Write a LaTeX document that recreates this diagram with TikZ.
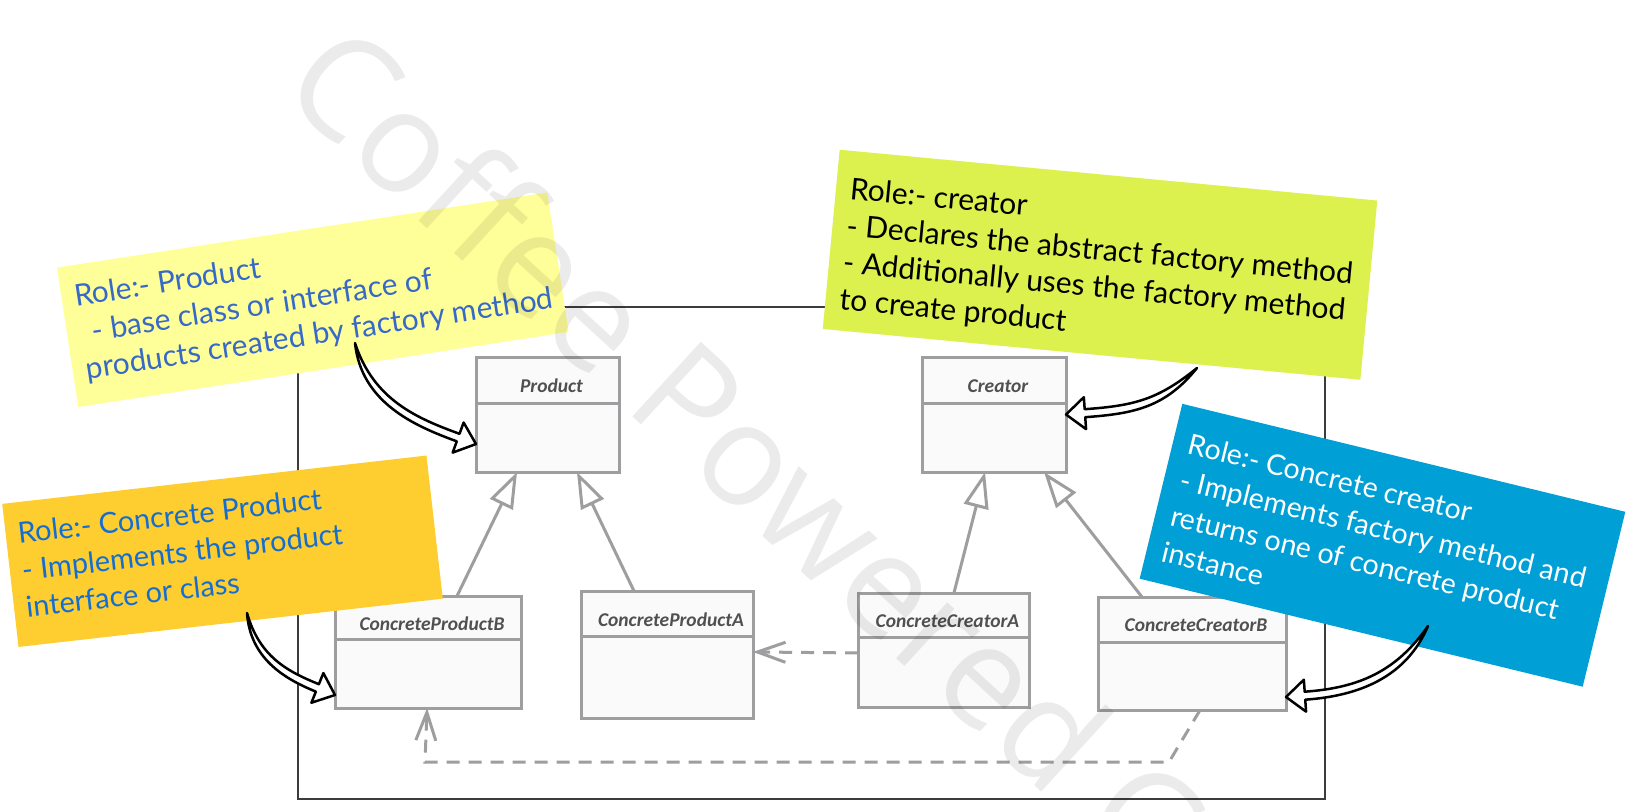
\documentclass[tikz,border=0pt]{standalone}
\usepackage{fontspec}
\usetikzlibrary{arrows.meta,calc}
\newfontfamily\handfont{Lato}
\newfontfamily\clsfont{Carlito}
\newfontfamily\wmfont{Open Sans}
\definecolor{clsgray}{RGB}{158,158,160}
\definecolor{clsfill}{RGB}{250,250,250}
\definecolor{clstext}{RGB}{80,80,80}
\definecolor{framec}{RGB}{60,60,60}
\definecolor{noteyellow}{RGB}{255,255,153}
\definecolor{notegreen}{RGB}{220,240,78}
\definecolor{noteorange}{RGB}{254,206,48}
\definecolor{noteblue}{RGB}{0,160,214}
\definecolor{textblueA}{RGB}{55,105,200}
\definecolor{textblueB}{RGB}{20,110,210}
\tikzset{
 clsbox/.style={draw=clsgray, fill=clsfill, line width=3pt, inner sep=0pt, outer sep=0pt},
 clsline/.style={draw=clsgray, line width=3pt},
 clstitle/.style={font=\clsfont\bfseries\itshape\fontsize{19.5}{22}\selectfont, text=clstext, inner sep=0pt},
 framebox/.style={draw=framec, line width=1.2pt, inner sep=0pt, outer sep=0pt},
 inh/.style={draw=clsgray, line width=3pt, -{Triangle[length=36pt,width=25pt,fill=white]}},
 dep/.style={draw=clsgray, line width=3pt, dash pattern=on 13pt off 9pt, -{Straight Barb[length=28pt,width=20pt]}},
 notebox/.style={inner sep=0pt, outer sep=0pt, transform shape},
 notetext/.style={font=\handfont\fontsize{30}{37}\selectfont, inner sep=0pt, align=left, anchor=north west, transform shape},
 notearr/.style={draw=black, fill=white, line width=2.5pt, line join=round},
 watermark/.style={font=\wmfont\fontsize{142}{142}\selectfont, text=black, text opacity=0.08, inner sep=0pt}
}
\newcommand\umlcls[7]{%
  \node[clsbox, minimum width={#4-#2}, minimum height={#5-#3}] (#1) at ({(#2+#4)/2},{(#3+#5)/2}) {};
  \draw[clsline] (#2,#6) -- (#4,#6);
  \node[clstitle] (#1-t) at ({(#2+#4)/2+4},{(#3+#6)/2+6}) {#7};
}
\newcommand\notearrow[6]{%
 \draw[notearr] (#1)
  .. controls ($(#1)+(#2+6:#5)$) and ($(#3)+(#4+180:19)+(#4+90:4)+(#4+180:#6)$) .. ($(#3)+(#4+180:19)+(#4+90:4)$)
  -- ($(#3)+(#4+180:19)+(#4+90:16)$) -- (#3) -- ($(#3)+(#4+180:19)+(#4-90:16)$) -- ($(#3)+(#4+180:19)+(#4-90:4)$)
  .. controls ($(#3)+(#4+180:19)+(#4-90:4)+(#4+180:#6)$) and ($(#1)+(#2-6:#5)$) .. (#1) -- cycle;
}
\begin{document}
\begin{tikzpicture}[x=1pt,y=-1pt]
\useasboundingbox (0,0) rectangle (1627,811);
\fill[white] (0,0) rectangle (1627,811);
% frame
\node[framebox, minimum width=1027, minimum height=492] (frame) at (811.5,553) {};
% classes
\umlcls{prod}{476}{357}{619}{472}{403}{Product}
\umlcls{creator}{922}{357}{1066}{472}{403}{Creator}
\umlcls{cpb}{335}{596}{521}{708}{639}{ConcreteProductB}
\umlcls{cpa}{581}{591}{753}{718}{636}{ConcreteProductA}
\umlcls{cca}{858}{593}{1029}{707}{637}{ConcreteCreatorA}
\umlcls{ccb}{1098}{597}{1286}{710}{642}{ConcreteCreatorB}
% generalisations
\draw[inh] ($(cpb.north west)!0.656!(cpb.north east)$) -- ($(prod.south west)!0.287!(prod.south east)$);
\draw[inh] ($(cpa.north west)!0.308!(cpa.north east)$) -- ($(prod.south west)!0.706!(prod.south east)$);
\draw[inh] ($(cca.north west)!0.561!(cca.north east)$) -- ($(creator.south west)!0.4375!(creator.south east)$);
\draw[inh] ($(ccb.north west)!0.234!(ccb.north east)$) -- ($(creator.south west)!0.847!(creator.south east)$);
% dependencies
\draw[dep] ($(cca.north west)!0.526!(cca.south west)$) -- ($(cpa.north east)!0.48!(cpa.south east)$);
\coordinate (d1) at (1169,762);
\coordinate (d2) at (425,762);
\draw[dep] ($(ccb.south west)!0.543!(ccb.south east)$) -- (d1) -- (d2) -- ($(cpb.south west)!0.495!(cpb.south east)$);
% notes
\begin{scope}[shift={(312.75,299.75)}, rotate=8.7]
\node[notebox, fill=noteyellow, minimum width=496, minimum height=141] (nprod) at (0,0) {};
\node[notetext, text=textblueA] (nprodt) at (-235,-51.5) {Role:- Product\\\hspace*{12pt}- base class or interface of\\products created by factory method};
\end{scope}
\begin{scope}[shift={(1100,264.75)}, rotate=-5.4]
\node[notebox, fill=notegreen, minimum width=540, minimum height=180] (ncre) at (0,0) {};
\node[notetext, text=black] (ncret) at (-256,-64) {Role:- creator\\- Declares the abstract factory method\\- Additionally uses the factory method\\to create product};
\end{scope}
\begin{scope}[shift={(222.5,551.25)}, rotate=6.5]
\node[notebox, fill=noteorange, minimum width=427, minimum height=144] (ncp) at (0,0) {};
\node[notetext, text=textblueB, font=\handfont\fontsize{29}{37}\selectfont] (ncpt) at (-201.5,-52) {Role:- Concrete Product\\- Implements the product\\interface or class};
\end{scope}
\begin{scope}[shift={(1382.5,545.25)}, rotate=-13.7]
\node[notebox, fill=noteblue, minimum width=456, minimum height=180] (ncc) at (0,0) {};
\node[notetext, text=white, font=\handfont\fontsize{28.5}{37}\selectfont] (ncct) at (-212,-64) {Role:- Concrete creator\\- Implements factory method and\\returns one of concrete product\\instance};
\end{scope}
% note arrows
\coordinate (s1) at (355,343);
\coordinate (s2) at (1197,368);
\coordinate (s3) at (247,613);
\coordinate (s4) at (1428,626);
\coordinate (t1) at ($(prod.north west)!0.757!(prod.south west)$);
\coordinate (t2) at (creator.east);
\coordinate (t3) at ($(cpb.north west)!0.884!(cpb.south west)$);
\coordinate (t4) at ($(ccb.north east)!0.885!(ccb.south east)$);
\notearrow{s1}{78}{t1}{20}{60}{45}
\notearrow{s2}{135}{t2}{176}{50}{50}
\notearrow{s3}{80}{t3}{22}{45}{35}
\notearrow{s4}{119}{t4}{176}{55}{55}
% watermark
\node[watermark, rotate=-42.5] (wm) at (747,449) {Coffee Powered C};
\end{tikzpicture}
\end{document}
